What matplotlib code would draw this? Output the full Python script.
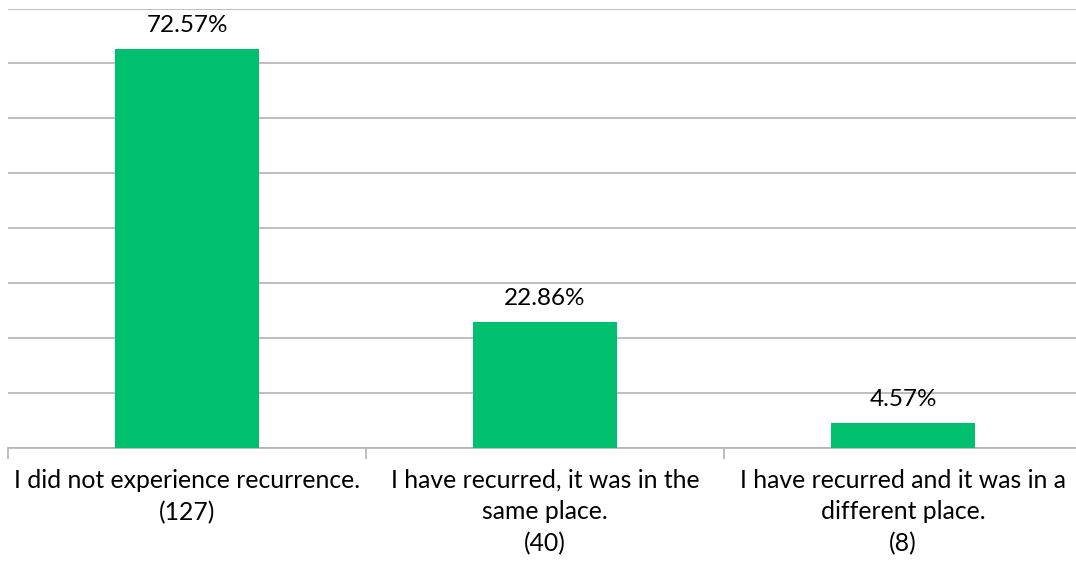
import matplotlib.pyplot as plt

# data
categories = ["I did not experience recurrence.\n(127)",
              "I have recurred, it was in the\nsame place.\n(40)",
              "I have recurred and it was in a\ndifferent place.\n(8)"]
percents = [72.57, 22.86, 4.57]

bar_color = '#00BF6F'
grid_color = '#B3B3B3'

plt.rcParams['font.family'] = ['Lato', 'DejaVu Sans']

fig = plt.figure(figsize=(10.76, 5.63), dpi=100)
W, H = 1076, 563
ax = fig.add_axes([8 / W, 1 - 448 / H, 1074 / W, (448 - 8.5) / H])

x = range(len(categories))
ax.bar(x, percents, width=0.4, color=bar_color, zorder=3)

for xi, p in zip(x, percents):
    ax.text(xi, p + 2.4, f"{p:.2f}%", ha='center', va='bottom', fontsize=17.5, color='#000000')

ax.set_xlim(-0.5, 2.5)
ax.set_ylim(0, 80)
ax.set_yticks(range(0, 81, 10))
ax.yaxis.grid(True, color=grid_color, lw=1.2, zorder=0)
ax.tick_params(axis='y', left=False, labelleft=False)

# category boundary ticks
ax.set_xticks([-0.5, 0.5, 1.5, 2.5])
ax.set_xticklabels([])
ax.tick_params(axis='x', which='major', length=8, width=1.2, color=grid_color)
ax.set_xticks(list(x), minor=True)
ax.set_xticklabels(categories, minor=True, fontsize=17.8, linespacing=1.45)
ax.tick_params(axis='x', which='minor', length=0, pad=15)

for s in ['top', 'right', 'left']:
    ax.spines[s].set_visible(False)
ax.spines['bottom'].set_color(grid_color)
ax.spines['bottom'].set_linewidth(1.2)

fig.savefig('out.png', dpi=100)
